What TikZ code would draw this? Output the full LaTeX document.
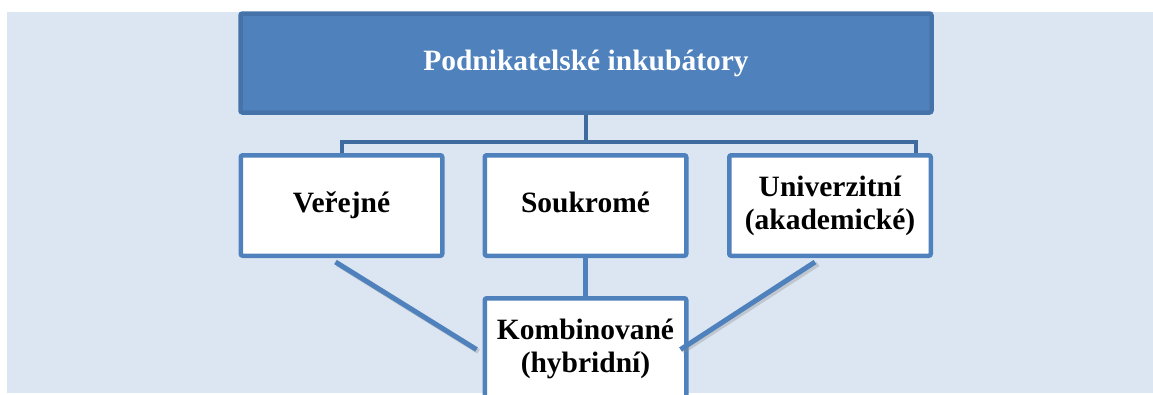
\documentclass[tikz,border=0pt]{standalone}
\usepackage{fontspec}
\setmainfont{Liberation Serif}
\usepackage{tikz}
\usetikzlibrary{positioning}

\definecolor{bgblue}{HTML}{DCE6F2}
\definecolor{boxblue}{HTML}{4F81BD}
\definecolor{rimblue}{HTML}{4672AA}
\definecolor{linkblue}{HTML}{3F6B9F}

\begin{document}
\begin{tikzpicture}[x=1pt, y=-1pt,
				 topnode/.style={rectangle, draw=rimblue, fill=boxblue, line width=4.5pt, rounded corners=2pt, minimum width=691, minimum height=99, text=white, font=\fontsize{29.5}{33}\selectfont\bfseries},
				 kindnode/.style={rectangle, draw=boxblue, fill=white, line width=4.5pt, rounded corners=2pt, minimum width=201.5, minimum height=100.5, align=center, font=\fontsize{29.5}{33}\selectfont\bfseries},
				 onelinenode/.style={kindnode, text height=20pt, text depth=7pt},
				 bracket/.style={draw=linkblue, line width=4pt},
				 link/.style={draw=boxblue, line width=5pt},
				 linkshadow/.style={draw=black!45, opacity=0.35, line width=5pt},
				 ]
				 \clip (0, 0) rectangle (1153, 394);
				 \fill[bgblue] (7, 12) rectangle (1153, 393);

				 % Coordinates
				 \coordinate							(br_left)			at (342, 142);
				 \coordinate							(br_right)			at (916, 142);

				 % Nodes
				 \node[topnode]							(incubators)		at (586, 63)		{Podnikatelské inkubátory};
				 \node[onelinenode]						(public)			at (341.5, 205.5)	{Veřejné};
				 \node[onelinenode]						(private)			at (585.5, 205.5)	{Soukromé};
				 \node[kindnode]						(academic)			at (830, 205.5)		{Univerzitní\\(akademické)};
				 \node[kindnode]						(hybrid)			at (585.5, 348.5)	{Kombinované\\(hybridní)};

				 % Lines
				 \draw[bracket] (incubators.south) -- (incubators.south |- br_left);
				 \draw[bracket] (public.north -| br_left) -- (br_left) -- (br_right) -- (academic.north -| br_right);
				 \draw[link] (private.south) -- (hybrid.north);
				 \draw[linkshadow] ([shift={(-4,6)}]public.south) -- ([shift={(-4,3)}]hybrid.west);
				 \draw[linkshadow] ([shift={(-12,6)}]academic.south) -- ([shift={(-6,3)}]hybrid.east);
				 \draw[link] ([shift={(-6,4)}]public.south) -- ([shift={(-6,1)}]hybrid.west);
				 \draw[link] ([shift={(-15,4)}]academic.south) -- ([shift={(-8,1)}]hybrid.east);
\end{tikzpicture}
\end{document}
